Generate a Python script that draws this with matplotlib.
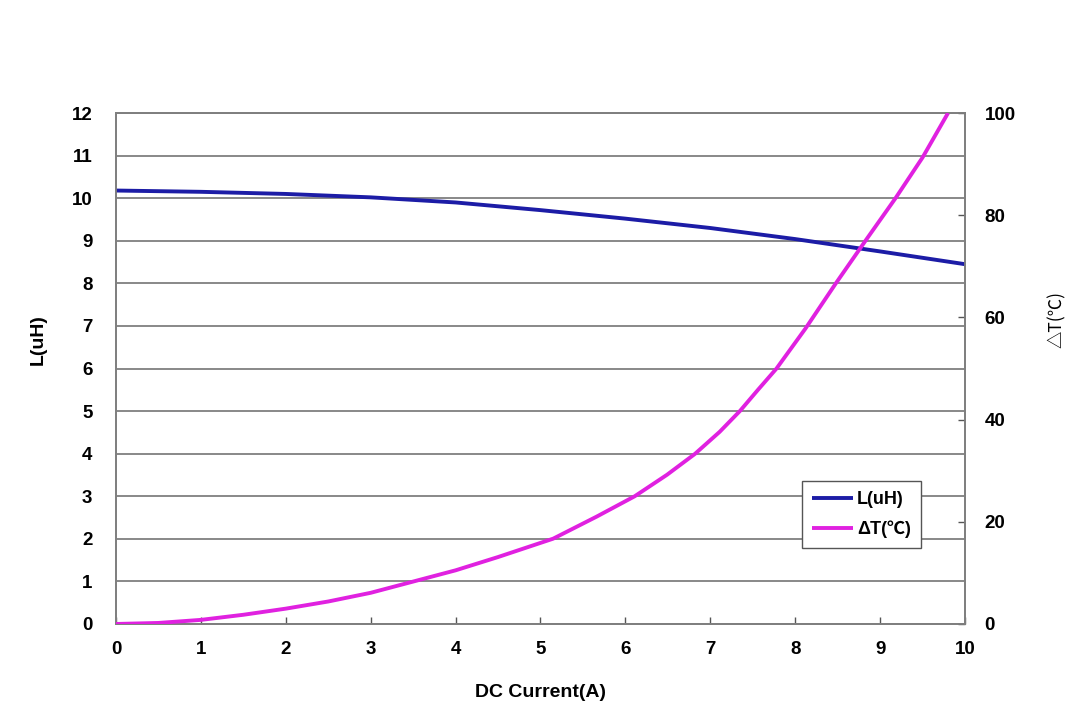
import matplotlib
matplotlib.use('Agg')
import matplotlib.pyplot as plt
from matplotlib.ticker import MultipleLocator

# values
current_L = [0, 1, 2, 3, 4, 5, 6, 7, 8, 9, 10]
inductance = [10.18, 10.15, 10.10, 10.02, 9.90, 9.72, 9.52, 9.30, 9.04, 8.75, 8.45]

current_T = [0, 0.5, 1, 1.5, 2, 2.5, 3, 3.5, 4, 4.5, 5.15, 5.66, 6.11,
             6.49, 6.82, 7.11, 7.35, 7.56, 7.78, 8.12, 8.48, 8.84, 9.18, 9.5, 9.8]
delta_t = [0, 0.2, 0.8, 1.8, 3.0, 4.4, 6.1, 8.3, 10.5, 13.1, 16.7, 21.0, 25.0,
           29.2, 33.3, 37.6, 41.7, 45.8, 50.0, 57.8, 66.7, 75.3, 83.3, 91.3, 100.0]

FONT = ['Liberation Sans', 'Noto Sans CJK SC', 'DejaVu Sans']
plt.rcParams['font.family'] = FONT
plt.rcParams['font.weight'] = 'bold'

fig = plt.figure(figsize=(10.85, 7.11), dpi=100)
ax = fig.add_axes([0.1069, 0.1224, 0.7825, 0.7186])
ax2 = ax.twinx()

line_l, = ax.plot(current_L, inductance, color='#1c1ca6', lw=2.8,
                  solid_capstyle='butt', label='L(uH)', zorder=3)
line_t, = ax2.plot(current_T, delta_t, color='#e021e0', lw=2.8,
                   solid_capstyle='butt', solid_joinstyle='round',
                   label='ΔT(℃)', zorder=3)

ax.set_xlim(0, 10)
ax.set_ylim(0, 12)
ax2.set_ylim(0, 100)
ax.xaxis.set_major_locator(MultipleLocator(1))
ax.yaxis.set_major_locator(MultipleLocator(1))
ax2.yaxis.set_major_locator(MultipleLocator(20))

ax.grid(axis='y', color='#7f7f7f', lw=1.3)
ax.set_axisbelow(True)

for a in (ax, ax2):
    for sp in a.spines.values():
        sp.set_color('#7f7f7f')
        sp.set_linewidth(1.3)

ax.tick_params(axis='x', direction='in', length=5, width=1, color='#555555',
               labelsize=13.5, pad=12)
ax.tick_params(axis='y', direction='in', length=0, labelsize=13.5, pad=17)
ax2.tick_params(axis='y', direction='in', length=5, width=1, color='#555555',
                labelsize=13.5, pad=14)

ax.set_xlabel('DC Current(A)', fontsize=14, fontweight='bold', labelpad=19)
ax.set_ylabel('L(uH)', fontsize=14, fontweight='bold')
ax.yaxis.set_label_coords(-0.082, 0.556)
ax2.set_ylabel('△T(℃)', fontsize=12.5, fontweight='normal',
               family=['Noto Sans CJK SC', 'DejaVu Sans'])
ax2.yaxis.set_label_coords(1.097, 0.595)

leg = ax2.legend(handles=[line_l, line_t], loc='lower left',
                 bbox_to_anchor=(0.808, 0.148), frameon=True, fancybox=False,
                 framealpha=1, edgecolor='#555555', fontsize=13,
                 handlelength=2.3, handletextpad=0.2, borderpad=0.55,
                 labelspacing=0.7, borderaxespad=0)
leg.get_frame().set_linewidth(1.0)

fig.savefig('out.png', dpi=100)
